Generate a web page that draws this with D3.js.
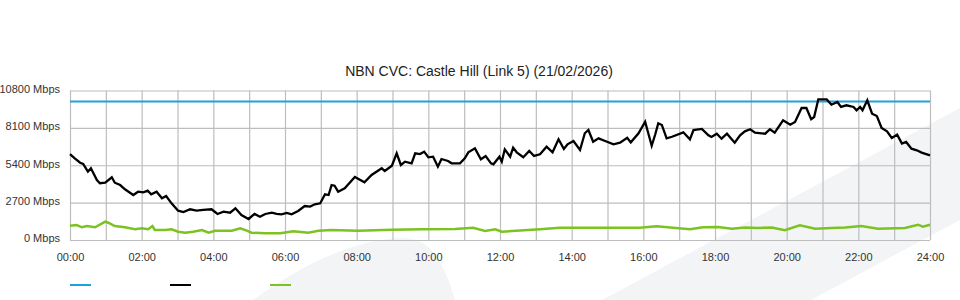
<!doctype html>
<html lang="en">
<head>
<meta charset="utf-8">
<title>NBN CVC: Castle Hill</title>
<style>
  body { margin: 0; background: #fff; font-family: "Liberation Sans", Arial, sans-serif; }
  .grid line { stroke: #bdbdbd; stroke-width: 1.2; }
  .grid .domain { display: none; }
  .lbl .domain, .lbl line { display: none; }
  .lbl text { font-size: 11px; fill: #333; font-family: "Liberation Sans", Arial, sans-serif; }
</style>
</head>
<body>
<svg width="960" height="300"></svg>
<script src="https://d3js.org/d3.v7.min.js"></script>
<script>
// capacity line (Mbps)
var capacity = 10000;

// black series: minutes after midnight / Mbps
var blackMin = [0,8,17,22,30,35,45,50,59,70,75,84,92,98,106,114,123,130,136,145,154,161,170,181,190,201,212,223,237,247,257,268,277,287,299,309,318,327,338,346,354,363,371,382,393,402,410,419,427,433,438,443,449,460,477,493,505,522,527,539,547,554,561,572,578,586,593,600,608,616,622,633,639,653,661,667,678,688,696,705,709,719,723,728,737,742,748,759,769,777,787,798,808,818,827,833,843,854,862,868,876,885,896,910,921,933,939,952,963,974,980,985,991,999,1008,1027,1038,1044,1058,1069,1074,1083,1091,1100,1113,1122,1130,1139,1147,1164,1172,1180,1194,1206,1214,1225,1233,1241,1246,1253,1267,1275,1285,1291,1300,1312,1317,1323,1327,1335,1343,1351,1359,1368,1376,1385,1393,1400,1409,1418,1426,1440];
var blackVal = [6200,5900,5580,5490,4935,5180,4330,4100,4140,4530,4140,3970,3660,3490,3250,3490,3440,3560,3300,3490,3010,3180,2650,2120,2020,2220,2120,2170,2220,1880,2045,1970,2290,1806,1517,1880,1685,1880,1970,1880,1856,1950,1856,2095,2456,2410,2580,2650,3300,3250,3970,3920,3490,3730,4550,4170,4700,5180,4985,5370,6265,5418,5660,5540,6265,6210,6380,5975,6020,5300,5850,5710,5540,5540,5900,6335,6620,5830,6070,5540,5470,6020,5660,6550,6020,6670,6335,5975,6430,6070,6190,6740,6335,7275,6575,6910,7150,6500,7710,7946,7100,7345,7150,6910,7030,7390,7055,7710,8550,6810,7640,8430,8310,7345,7460,7780,7275,7946,8020,7560,7440,7680,7320,7680,7030,7560,7850,8000,7750,7680,8000,7750,8650,8330,8525,9535,9535,8720,8885,10160,10160,9775,9970,9610,9730,9610,9370,9610,9370,10090,9125,8960,8090,7850,7370,7605,6960,7080,6595,6480,6310,6120];

// green series: minutes after midnight / Mbps
var greenMin = [0,11,20,28,42,59,64,75,92,109,120,131,138,142,159,170,181,193,206,221,232,243,271,285,296,304,327,352,374,399,416,438,482,539,589,645,675,695,712,723,787,820,887,954,982,1038,1060,1085,1108,1130,1152,1175,1197,1222,1248,1275,1298,1325,1353,1398,1420,1428,1440];
var greenVal = [1030,1080,917,1010,917,1320,1250,1010,917,773,845,773,1010,722,722,773,600,527,600,722,527,672,672,845,672,527,484,484,628,527,672,722,672,745,773,795,890,650,773,600,773,890,890,890,990,773,917,940,816,900,870,900,700,1060,816,870,900,1010,816,870,1105,960,1105];

var hourTicks = d3.range(0, 1441, 60);
var labelTicks = d3.range(0, 1441, 120);
var yTicks = [0, 2700, 5400, 8100, 10800];
var title = "NBN CVC: Castle Hill (Link 5) (21/02/2026)";

var svg = d3.select("svg");

// faint background shapes
svg.append("path")
    .attr("d", "M602,300 L960,108 L960,220 L811,300 Z")
    .attr("fill", "#f3f4f6");
svg.append("path")
    .attr("d", "M253,300 C300,266 352,240 400,238 C425,237 440,250 455,300 Z")
    .attr("fill", "#f3f4f6");

var x = d3.scaleLinear().domain([0, 1440]).range([70, 930]);
var y = d3.scaleLinear().domain([0, 10800]).range([240, 90.5]);

// grid
svg.append("g")
    .attr("class", "grid")
    .attr("transform", "translate(0,240)")
    .call(d3.axisBottom(x).tickValues(hourTicks).tickSize(-(240 - 90.5)).tickFormat(""));
svg.append("g")
    .attr("class", "grid")
    .attr("transform", "translate(70,0)")
    .call(d3.axisLeft(y).tickValues(yTicks).tickSize(-860).tickFormat(""));

// axis labels
svg.append("g")
    .attr("class", "lbl")
    .attr("transform", "translate(0,240)")
    .call(d3.axisBottom(x).tickValues(labelTicks).tickSize(0).tickPadding(13)
      .tickFormat(function(d) { return d3.format("02")(d / 60) + ":00"; }));
svg.append("g")
    .attr("class", "lbl")
    .attr("transform", "translate(70,0)")
    .call(d3.axisLeft(y).tickValues(yTicks).tickSize(0).tickPadding(10)
      .tickFormat(function(d) { return d + " Mbps"; }))
  .selectAll("text").attr("dy", "0.18em");

// title
svg.append("text")
    .attr("x", 479)
    .attr("y", 76)
    .attr("text-anchor", "middle")
    .attr("font-size", "14px")
    .attr("fill", "#222")
    .text(title);

var line = d3.line()
    .x(function(d) { return x(d[0]); })
    .y(function(d) { return y(d[1]); });

// capacity
svg.append("path")
    .datum([[0, capacity], [1440, capacity]])
    .attr("d", line)
    .attr("fill", "none")
    .attr("stroke", "#1ca3de")
    .attr("stroke-width", 2);

svg.append("path")
    .datum(d3.zip(greenMin, greenVal))
    .attr("d", line)
    .attr("fill", "none")
    .attr("stroke", "#7cc221")
    .attr("stroke-width", 2.5);

svg.append("path")
    .datum(d3.zip(blackMin, blackVal))
    .attr("d", line)
    .attr("fill", "none")
    .attr("stroke", "#000")
    .attr("stroke-width", 2.3);

// legend swatches
var legendColors = ["#1ca3de", "#000", "#7cc221"];
svg.append("g")
  .selectAll("line")
  .data(legendColors)
  .enter().append("line")
    .attr("x1", function(d, i) { return 70 + i * 100; })
    .attr("x2", function(d, i) { return 91 + i * 100; })
    .attr("y1", 285)
    .attr("y2", 285)
    .attr("stroke", function(d) { return d; })
    .attr("stroke-width", 2);
</script>
</body>
</html>
